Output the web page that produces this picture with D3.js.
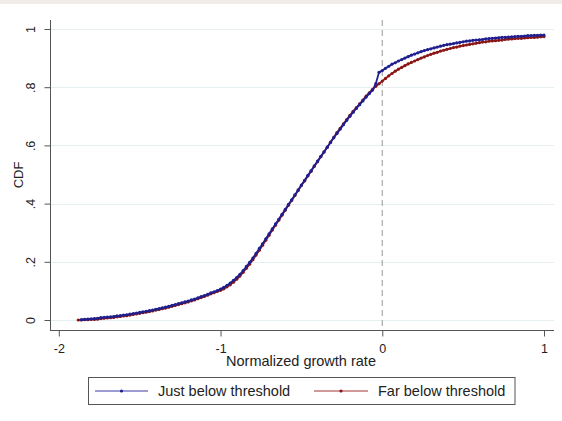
<!DOCTYPE html>
<html>
<head>
<meta charset="utf-8">
<script src="https://cdn.jsdelivr.net/npm/d3@7"></script>
<style>
  body { margin: 0; background: #ffffff; }
  svg { display: block; font-family: "Liberation Sans", Arial, sans-serif; }
</style>
</head>
<body>
<svg id="chart" width="562" height="421"></svg>
<script>
// Evaluation grid of normalized growth rates
const gridX = [
  -1.88,-1.86,-1.84,-1.82,-1.80,-1.78,-1.76,-1.74,-1.72,-1.70,
  -1.68,-1.66,-1.64,-1.62,-1.60,-1.58,-1.56,-1.54,-1.52,-1.50,
  -1.48,-1.46,-1.44,-1.42,-1.40,-1.38,-1.36,-1.34,-1.32,-1.30,
  -1.28,-1.26,-1.24,-1.22,-1.20,-1.18,-1.16,-1.14,-1.12,-1.10,
  -1.08,-1.06,-1.04,-1.02,-1.00,-0.98,-0.96,-0.94,-0.92,-0.90,
  -0.88,-0.86,-0.84,-0.82,-0.80,-0.78,-0.76,-0.74,-0.72,-0.70,
  -0.68,-0.66,-0.64,-0.62,-0.60,-0.58,-0.56,-0.54,-0.52,-0.50,
  -0.48,-0.46,-0.44,-0.42,-0.40,-0.38,-0.36,-0.34,-0.32,-0.30,
  -0.28,-0.26,-0.24,-0.22,-0.20,-0.18,-0.16,-0.14,-0.12,-0.10,
  -0.08,-0.06,-0.04,-0.02, 0.00, 0.02, 0.04, 0.06, 0.08, 0.10,
   0.12, 0.14, 0.16, 0.18, 0.20, 0.22, 0.24, 0.26, 0.28, 0.30,
   0.32, 0.34, 0.36, 0.38, 0.40, 0.42, 0.44, 0.46, 0.48, 0.50,
   0.52, 0.54, 0.56, 0.58, 0.60, 0.62, 0.64, 0.66, 0.68, 0.70,
   0.72, 0.74, 0.76, 0.78, 0.80, 0.82, 0.84, 0.86, 0.88, 0.90,
   0.92, 0.94, 0.96, 0.98, 1.00
];

// CDF of firms just below the threshold (no observation at the first grid point)
const justBelow = [
  null, 0.001,0.002,0.003,0.004,0.005,0.006,0.008,0.009,0.010,
  0.011,0.012,0.014,0.015,0.017,0.018,0.020,0.022,0.024,0.026,
  0.028,0.030,0.032,0.034,0.037,0.039,0.042,0.044,0.047,0.050,
  0.053,0.056,0.059,0.062,0.065,0.069,0.072,0.076,0.080,0.084,
  0.088,0.093,0.097,0.101,0.106,0.112,0.119,0.127,0.136,0.146,
  0.157,0.170,0.184,0.198,0.213,0.229,0.246,0.262,0.279,0.296,
  0.313,0.330,0.346,0.363,0.380,0.397,0.413,0.430,0.447,0.464,
  0.480,0.497,0.513,0.530,0.546,0.562,0.578,0.594,0.610,0.626,
  0.641,0.656,0.671,0.686,0.700,0.714,0.727,0.740,0.753,0.766,
  0.778,0.790,0.812,0.851,0.857,0.865,0.872,0.879,0.884,0.890,
  0.895,0.900,0.905,0.910,0.914,0.918,0.922,0.926,0.929,0.932,
  0.935,0.938,0.941,0.944,0.946,0.948,0.950,0.952,0.954,0.956,
  0.958,0.959,0.961,0.962,0.963,0.964,0.966,0.967,0.968,0.969,
  0.970,0.971,0.971,0.972,0.973,0.974,0.975,0.975,0.976,0.977,
  0.977,0.978,0.978,0.979,0.979
];

// CDF of firms far below the threshold
const farBelow = [
  0.000,0.000,0.001,0.001,0.002,0.002,0.003,0.005,0.006,0.007,
  0.008,0.009,0.011,0.012,0.014,0.015,0.017,0.019,0.021,0.023,
  0.025,0.027,0.029,0.031,0.034,0.036,0.039,0.041,0.044,0.047,
  0.050,0.053,0.056,0.059,0.062,0.066,0.069,0.073,0.077,0.081,
  0.085,0.090,0.094,0.098,0.102,0.107,0.114,0.121,0.130,0.140,
  0.151,0.164,0.178,0.192,0.207,0.223,0.240,0.257,0.274,0.291,
  0.309,0.326,0.343,0.360,0.377,0.394,0.411,0.428,0.445,0.462,
  0.478,0.495,0.511,0.528,0.544,0.561,0.577,0.594,0.611,0.628,
  0.644,0.659,0.674,0.689,0.703,0.717,0.730,0.743,0.756,0.769,
  0.781,0.793,0.803,0.812,0.821,0.830,0.839,0.847,0.855,0.862,
  0.868,0.874,0.880,0.885,0.890,0.895,0.900,0.904,0.909,0.913,
  0.917,0.920,0.924,0.927,0.930,0.933,0.936,0.938,0.941,0.943,
  0.945,0.947,0.949,0.951,0.953,0.955,0.956,0.958,0.959,0.960,
  0.961,0.962,0.964,0.965,0.966,0.967,0.968,0.968,0.969,0.970,
  0.971,0.971,0.972,0.973,0.974
];

const seriesNames = ["Just below threshold", "Far below threshold"];
const seriesColors = ["#1f1f8f", "#8b1616"];
const legendColors = ["#3b3ba6", "#a33434"];

const xTickValues = [-2, -1, 0, 1];
const xTickLabels = ["-2", "-1", "0", "1"];
const yTickValues = [0, 0.2, 0.4, 0.6, 0.8, 1];
const yTickLabels = ["0", ".2", ".4", ".6", ".8", "1"];
const thresholdX = 0;

const svg = d3.select("#chart");

// thin header band
svg.append("rect").attr("x", 0).attr("y", 0).attr("width", 562).attr("height", 4)
  .attr("fill", "#f1ece8");

const plot = { left: 50, right: 554, top: 20, bottom: 330.5 };

const x = d3.scaleLinear().domain([-2, 1]).range([58.8, 544]);
const y = d3.scaleLinear().domain([0, 1]).range([320, 29]);

// horizontal grid lines
svg.append("g").selectAll("line").data(yTickValues).join("line")
  .attr("x1", plot.left).attr("x2", plot.right)
  .attr("y1", d => Math.round(y(d)) + 0.5).attr("y2", d => Math.round(y(d)) + 0.5)
  .attr("stroke", "#e5eef0").attr("stroke-width", 1);

// threshold reference line
svg.append("line")
  .attr("x1", x(thresholdX)).attr("x2", x(thresholdX))
  .attr("y1", plot.top).attr("y2", plot.bottom)
  .attr("stroke", "#a8a8a8").attr("stroke-width", 1.2)
  .attr("stroke-dasharray", "6,4");

// y axis
const yAxis = svg.append("g")
  .attr("transform", `translate(${plot.left + 0.5},0)`)
  .call(d3.axisLeft(y).tickValues(yTickValues)
    .tickFormat((d, i) => yTickLabels[i]).tickSize(6).tickSizeOuter(0));
yAxis.select(".domain").remove();
yAxis.selectAll(".tick line").attr("stroke", "#555");
yAxis.selectAll(".tick text")
  .attr("transform", "rotate(-90)")
  .attr("x", 0).attr("y", -15.5).attr("dy", 0)
  .attr("text-anchor", "middle")
  .attr("font-size", 12.5).attr("fill", "#222")
  .attr("font-family", "'Liberation Sans', Arial, sans-serif");
svg.append("line")
  .attr("x1", plot.left + 0.5).attr("x2", plot.left + 0.5)
  .attr("y1", plot.top).attr("y2", plot.bottom + 0.5)
  .attr("stroke", "#555").attr("stroke-width", 1);

// x axis
const xAxis = svg.append("g")
  .attr("transform", `translate(0,${plot.bottom})`)
  .call(d3.axisBottom(x).tickValues(xTickValues)
    .tickFormat((d, i) => xTickLabels[i]).tickSize(6).tickSizeOuter(0));
xAxis.select(".domain").remove();
xAxis.selectAll(".tick line").attr("stroke", "#555");
xAxis.selectAll(".tick text")
  .attr("y", 22.5).attr("dy", 0)
  .attr("font-size", 12.5).attr("fill", "#222")
  .attr("font-family", "'Liberation Sans', Arial, sans-serif");
svg.append("line")
  .attr("x1", plot.left).attr("x2", plot.right)
  .attr("y1", plot.bottom).attr("y2", plot.bottom)
  .attr("stroke", "#555").attr("stroke-width", 1);

// axis titles
svg.append("text")
  .attr("x", 301).attr("y", 366)
  .attr("text-anchor", "middle").attr("font-size", 14.5).attr("fill", "#222")
  .text("Normalized growth rate");
svg.append("text")
  .attr("transform", "translate(22.7,175) rotate(-90)")
  .attr("text-anchor", "middle").attr("font-size", 13).attr("fill", "#222")
  .text("CDF");

// CDF curves: far below drawn first, just below on top
const seriesData = [justBelow, farBelow].map(vals =>
  gridX.map((gx, i) => ({ x: gx, v: vals[i] })).filter(d => d.v !== null));

const line = d3.line().x(d => x(d.x)).y(d => y(d.v));

[1, 0].forEach(k => {
  const g = svg.append("g");
  g.append("path").datum(seriesData[k])
    .attr("d", line).attr("fill", "none")
    .attr("stroke", seriesColors[k]).attr("stroke-width", 1.8);
  g.selectAll("circle").data(seriesData[k]).join("circle")
    .attr("cx", d => x(d.x)).attr("cy", d => y(d.v)).attr("r", 1.6)
    .attr("fill", seriesColors[k]);
});

// legend
const legend = svg.append("g");
legend.append("rect")
  .attr("x", 88.5).attr("y", 377.5).attr("width", 426.5).attr("height", 27)
  .attr("fill", "#fff").attr("stroke", "#555").attr("stroke-width", 1);
const legendItems = [
  { x1: 95, x2: 148, tx: 158 },
  { x1: 314, x2: 368, tx: 378 }
];
legendItems.forEach((it, k) => {
  legend.append("line")
    .attr("x1", it.x1).attr("x2", it.x2).attr("y1", 391).attr("y2", 391)
    .attr("stroke", legendColors[k]).attr("stroke-width", 1);
  legend.append("circle")
    .attr("cx", (it.x1 + it.x2) / 2).attr("cy", 391).attr("r", 1.6)
    .attr("fill", seriesColors[k]);
  legend.append("text")
    .attr("x", it.tx).attr("y", 396)
    .attr("font-size", 14.5).attr("fill", "#222")
    .text(seriesNames[k]);
});
</script>
</body>
</html>
